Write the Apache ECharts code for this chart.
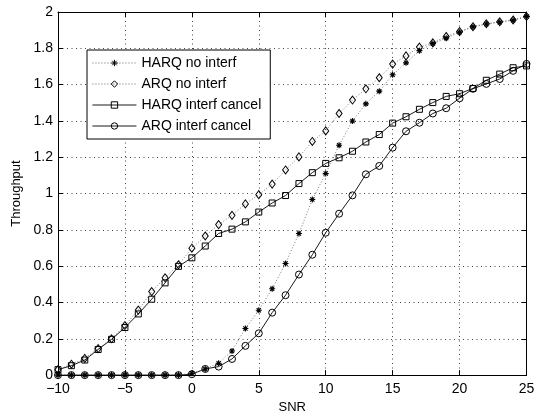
<!DOCTYPE html>
<html>
<head>
<meta charset="utf-8">
<script src="https://cdn.jsdelivr.net/npm/echarts@6/dist/echarts.min.js"></script>
<style>
  html, body { margin: 0; padding: 0; background: #fff; }
  #chart { width: 544px; height: 419px; }
</style>
</head>
<body>
<div id="chart"></div>
<script>
// SNR sweep (dB)
const snr = [-10, -9, -8, -7, -6, -5, -4, -3, -2, -1, 0, 1, 2, 3, 4, 5, 6, 7, 8, 9,
             10, 11, 12, 13, 14, 15, 16, 17, 18, 19, 20, 21, 22, 23, 24, 25];

const harqNoInterf = [0, 0, 0, 0, 0, 0, 0, 0, 0, 0,
  0.01, 0.034, 0.065, 0.133, 0.257, 0.357, 0.476, 0.615, 0.78, 0.967,
  1.11, 1.266, 1.40, 1.494, 1.564, 1.654, 1.72, 1.787, 1.826, 1.856,
  1.889, 1.918, 1.934, 1.944, 1.955, 1.975];

const arqNoInterf = [0.03, 0.06, 0.092, 0.146, 0.2, 0.273, 0.358, 0.46, 0.536, 0.608,
  0.699, 0.766, 0.829, 0.88, 0.943, 0.994, 1.052, 1.13, 1.202, 1.287,
  1.345, 1.441, 1.515, 1.577, 1.638, 1.713, 1.758, 1.807, 1.83, 1.865,
  1.892, 1.919, 1.935, 1.946, 1.956, 1.975];

const harqInterfCancel = [0.03, 0.052, 0.083, 0.141, 0.197, 0.262, 0.337, 0.418, 0.508, 0.599,
  0.646, 0.711, 0.78, 0.804, 0.844, 0.898, 0.948, 0.989, 1.055, 1.115,
  1.166, 1.197, 1.233, 1.284, 1.325, 1.388, 1.423, 1.464, 1.501, 1.535,
  1.55, 1.579, 1.624, 1.658, 1.693, 1.703];

const arqInterfCancel = [0, 0, 0, 0, 0, 0, 0, 0, 0, 0,
  0.005, 0.034, 0.047, 0.089, 0.161, 0.23, 0.344, 0.44, 0.554, 0.663,
  0.784, 0.889, 0.99, 1.106, 1.152, 1.253, 1.343, 1.39, 1.441, 1.47,
  1.525, 1.577, 1.604, 1.631, 1.676, 1.714];

const seriesNames = ['HARQ no interf', 'ARQ no interf', 'HARQ interf cancel', 'ARQ interf cancel'];

const FONT = '"Liberation Sans", Arial, Helvetica, sans-serif';
const asterisk = 'path://M5,0L5,10M0,5L10,5M1.5,1.5L8.5,8.5M1.5,8.5L8.5,1.5';

function pairs(ys) { return snr.map((x, i) => [x, ys[i]]); }

const minus = v => String(v).replace('-', '\u2212');

const baseX = {
  type: 'value', min: -10, max: 25, interval: 5,
  axisLine: { show: true, onZero: false, lineStyle: { color: '#000', width: 1 } },
  axisTick: { show: true, inside: true, length: 5, lineStyle: { color: '#000' } }
};
const baseY = {
  type: 'value', min: 0, max: 2, interval: 0.2,
  axisLine: { show: true, onZero: false, lineStyle: { color: '#000', width: 1 } },
  axisTick: { show: true, inside: true, length: 5, lineStyle: { color: '#000' } }
};
const gridDots = { show: true, lineStyle: { color: '#444', width: 1, type: [1, 3.5] } };

const chart = echarts.init(document.getElementById('chart'), null, { renderer: 'canvas' });
chart.setOption({
  animation: false,
  backgroundColor: '#fff',
  textStyle: { fontFamily: FONT },
  grid: { left: 58, right: 17.5, top: 12, bottom: 38.7, containLabel: false },
  xAxis: [
    Object.assign({}, baseX, {
      position: 'bottom',
      name: 'SNR', nameLocation: 'middle', nameGap: 25,
      nameTextStyle: { color: '#000', fontSize: 13, fontFamily: FONT },
      axisLabel: { color: '#000', fontSize: 14, fontFamily: FONT, margin: 7, formatter: minus },
      splitLine: gridDots
    }),
    Object.assign({}, baseX, {
      position: 'top', axisLabel: { show: false }, splitLine: { show: false }
    })
  ],
  yAxis: [
    Object.assign({}, baseY, {
      position: 'left',
      name: 'Throughput', nameLocation: 'middle', nameGap: 33,
      nameTextStyle: { color: '#000', fontSize: 13, fontFamily: FONT },
      axisLabel: { color: '#000', fontSize: 14, fontFamily: FONT, margin: 5 },
      splitLine: gridDots
    }),
    Object.assign({}, baseY, {
      position: 'right', axisLabel: { show: false }, splitLine: { show: false }
    })
  ],
  legend: {
    orient: 'vertical',
    left: 87, top: 50,
    padding: [6, 9, 6, 5],
    itemGap: 7,
    itemWidth: 44, itemHeight: 8,
    backgroundColor: '#fff',
    borderColor: '#000', borderWidth: 1,
    lineStyle: { width: 0.9 },
    itemStyle: { borderWidth: 1 },
    textStyle: { color: '#000', fontSize: 14, fontFamily: FONT },
    data: seriesNames
  },
  series: [
    {
      name: seriesNames[0], type: 'line', data: pairs(harqNoInterf),
      symbol: asterisk, symbolSize: 6, showAllSymbol: true,
      lineStyle: { color: '#555', width: 0.8, type: [1, 2] },
      itemStyle: { color: '#000', borderColor: '#000', borderWidth: 1.1 },
      z: 4
    },
    {
      name: seriesNames[1], type: 'line', data: pairs(arqNoInterf),
      symbol: 'diamond', symbolSize: [6, 8], showAllSymbol: true,
      lineStyle: { color: '#555', width: 0.8, type: [1, 2] },
      itemStyle: { color: 'rgba(255,255,255,0)', borderColor: '#000', borderWidth: 1 },
      z: 3
    },
    {
      name: seriesNames[2], type: 'line', data: pairs(harqInterfCancel),
      symbol: 'rect', symbolSize: 6, showAllSymbol: true,
      lineStyle: { color: '#000', width: 0.9 },
      itemStyle: { color: 'rgba(255,255,255,0)', borderColor: '#000', borderWidth: 1 },
      z: 3
    },
    {
      name: seriesNames[3], type: 'line', data: pairs(arqInterfCancel),
      symbol: 'circle', symbolSize: 7, showAllSymbol: true,
      lineStyle: { color: '#000', width: 0.9 },
      itemStyle: { color: 'rgba(255,255,255,0)', borderColor: '#000', borderWidth: 1 },
      z: 3
    }
  ]
});
</script>
</body>
</html>
